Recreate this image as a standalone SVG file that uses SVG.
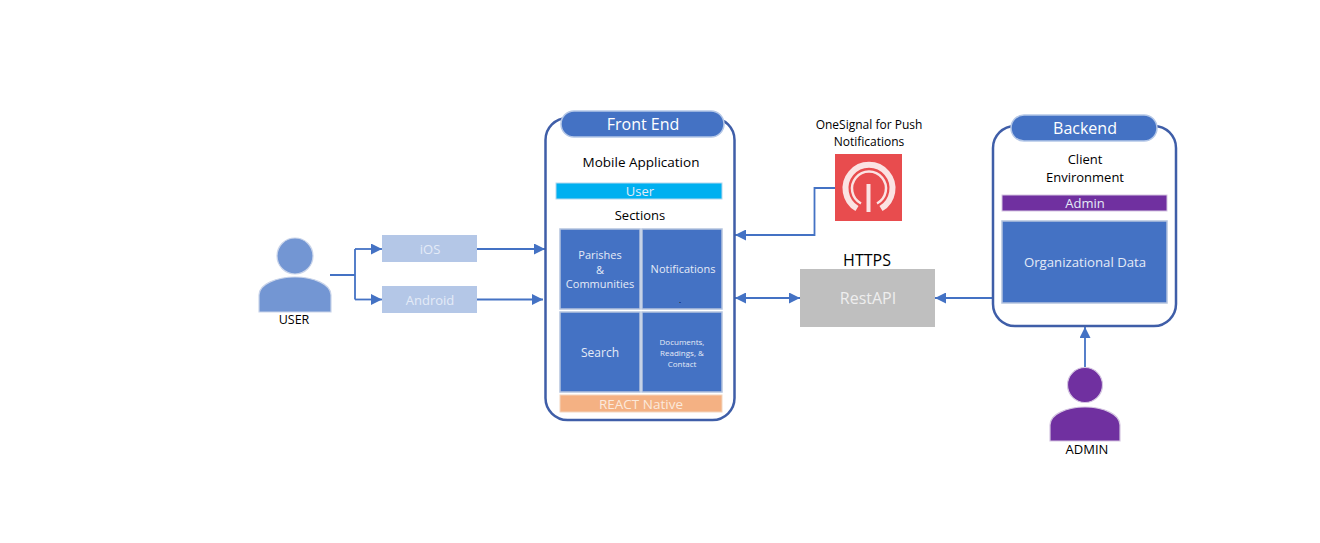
<svg xmlns="http://www.w3.org/2000/svg" width="1320" height="543" viewBox="0 0 1320 543">
<style>
text{font-family:"Open Sans","Noto Sans","Liberation Sans",sans-serif;text-anchor:middle;dominant-baseline:central}
.k{fill:#000}
.w{fill:#fff}
.lw{fill:#e4ebf7}
.cell{fill:#4472c4;stroke:#b4c3de;stroke-width:1.5}
.panel{fill:#fff;stroke:#3f5ea8;stroke-width:2.5}
.pill{fill:#4472c4;stroke:#b4c7e7;stroke-width:1.5}
.soft{fill:#b4c7e7}
.c{fill:none;stroke:#4472c4;stroke-width:1.8}
.person-u{fill:#7396d3;stroke:#c9d4ea;stroke-width:1.2}
.person-a{fill:#7030a0;stroke:#d5c6e2;stroke-width:1.2}
.logo{fill:none;stroke:#fbe3e3}
</style>
<defs>
<marker id="ah" viewBox="0 0 10 10" refX="10" refY="5" markerWidth="11" markerHeight="11" markerUnits="userSpaceOnUse" orient="auto-start-reverse"><path d="M0 0L10 5L0 10z" fill="#4472c4"/></marker>
</defs>
<rect width="1320" height="543" fill="#fff"/>

<g id="connectors">
<path class="c" d="M330 275H355M355 249V299.500"/>
<path class="c" d="M355 249H382" marker-end="url(#ah)"/>
<path class="c" d="M355 299.500H382" marker-end="url(#ah)"/>
<path class="c" d="M477 249H545" marker-end="url(#ah)"/>
<path class="c" d="M477 299.500H543" marker-end="url(#ah)"/>
<path class="c" d="M835 188H814.500V235H735" marker-end="url(#ah)"/>
<path class="c" d="M735 298H800" marker-start="url(#ah)" marker-end="url(#ah)"/>
<path class="c" d="M993 298H935" marker-end="url(#ah)"/>
<path class="c" d="M1085 368V327" marker-end="url(#ah)"/>
</g>

<g id="user">
<circle class="person-u" cx="295" cy="256" r="18"/>
<path class="person-u" d="M259 312V295C259 284 277 277 295 277C313 277 331 284 331 295V312Z"/>
<text class="k" x="294" y="319.500" font-size="12.500">USER</text>
</g>
<g id="ios"><rect class="soft" x="382" y="235" width="95" height="27"/><text class="lw" x="430" y="248.500" font-size="13">iOS</text></g>
<g id="android"><rect class="soft" x="382" y="286" width="95" height="27"/><text class="lw" x="430" y="299.500" font-size="13">Android</text></g>

<g id="front-end">
<rect class="panel" x="545.500" y="118" width="189" height="302" rx="22"/>
<rect class="pill" x="561" y="111" width="163" height="26" rx="13"/>
<text class="w" x="643" y="123.500" font-size="16">Front End</text>
<text class="k" x="641" y="162" font-size="13.500">Mobile Application</text>
<rect x="556" y="183" width="166" height="16" fill="#00b0f0" stroke="#b4d8ee"/>
<text class="lw" x="640" y="190.500" font-size="13">User</text>
<text class="k" x="640" y="215" font-size="13">Sections</text>
<g id="parishes"><rect class="cell" x="560" y="229" width="80" height="80"/><text class="lw" font-size="11" x="600" y="254">Parishes</text><text class="lw" font-size="11" x="600" y="269">&amp;</text><text class="lw" font-size="11" x="600" y="283.500">Communities</text></g>
<g id="notifications"><rect class="cell" x="642" y="229" width="80" height="80"/><text class="lw" font-size="11" x="683" y="268.500">Notifications</text><text class="k" font-size="8" x="680" y="299.500">.</text></g>
<g id="search"><rect class="cell" x="560" y="312" width="80" height="80"/><text class="lw" font-size="12" x="600" y="352.500">Search</text></g>
<g id="documents"><rect class="cell" x="642" y="312" width="80" height="80"/><text class="lw" font-size="8" x="682" y="341.500">Documents,</text><text class="lw" font-size="8" x="682" y="352.500">Readings, &amp;</text><text class="lw" font-size="8" x="682" y="363.500">Contact</text></g>
<rect x="560" y="395" width="162" height="17" fill="#f4b183" stroke="#f3d5bd"/>
<text x="641" y="403.500" font-size="13.500" fill="#fbe9dc">REACT Native</text>
</g>

<g id="onesignal">
<text class="k" x="869" y="124.500" font-size="12">OneSignal for Push</text>
<text class="k" x="869" y="141.500" font-size="12">Notifications</text>
<rect x="835" y="154" width="67" height="67" fill="#e84c4e"/>
<!-- open ring, bottom gap around the stem -->
<path class="logo" stroke-width="6" d="M857 208.500A23.500 23.500 0 1 1 881 208.500"/>
<path class="logo" stroke-width="2.500" d="M861 203.500A17 17 0 1 1 877 203.500"/>
<path d="M866.500 184H870.500V212H866.500Z" fill="#fbe3e3"/>
</g>

<g id="rest-api">
<text class="k" x="867" y="259.500" font-size="16">HTTPS</text>
<rect x="800" y="269" width="135" height="58" fill="#bfbfbf"/>
<text x="868" y="297.500" font-size="16" fill="#eeeeee">RestAPI</text>
</g>

<g id="backend">
<rect class="panel" x="993" y="126" width="183" height="200" rx="22"/>
<rect class="pill" x="1011" y="115" width="146" height="26" rx="13"/>
<text class="w" x="1085" y="127.500" font-size="16">Backend</text>
<text class="k" x="1085" y="158.500" font-size="13">Client</text>
<text class="k" x="1085" y="176.500" font-size="13">Environment</text>
<rect x="1002" y="195" width="165" height="16" fill="#7030a0" stroke="#d5c6e2"/>
<text class="lw" x="1085" y="202.500" font-size="13">Admin</text>
<rect class="cell" x="1002" y="221" width="165" height="82"/>
<text class="lw" x="1085" y="261.500" font-size="13.200">Organizational Data</text>
</g>

<g id="admin">
<circle class="person-a" cx="1085" cy="385" r="17.500"/>
<path class="person-a" d="M1050 441V425C1050 414 1067 407 1085 407C1103 407 1120 414 1120 425V441Z"/>
<text class="k" x="1087" y="448.500" font-size="13">ADMIN</text>
</g>
</svg>
